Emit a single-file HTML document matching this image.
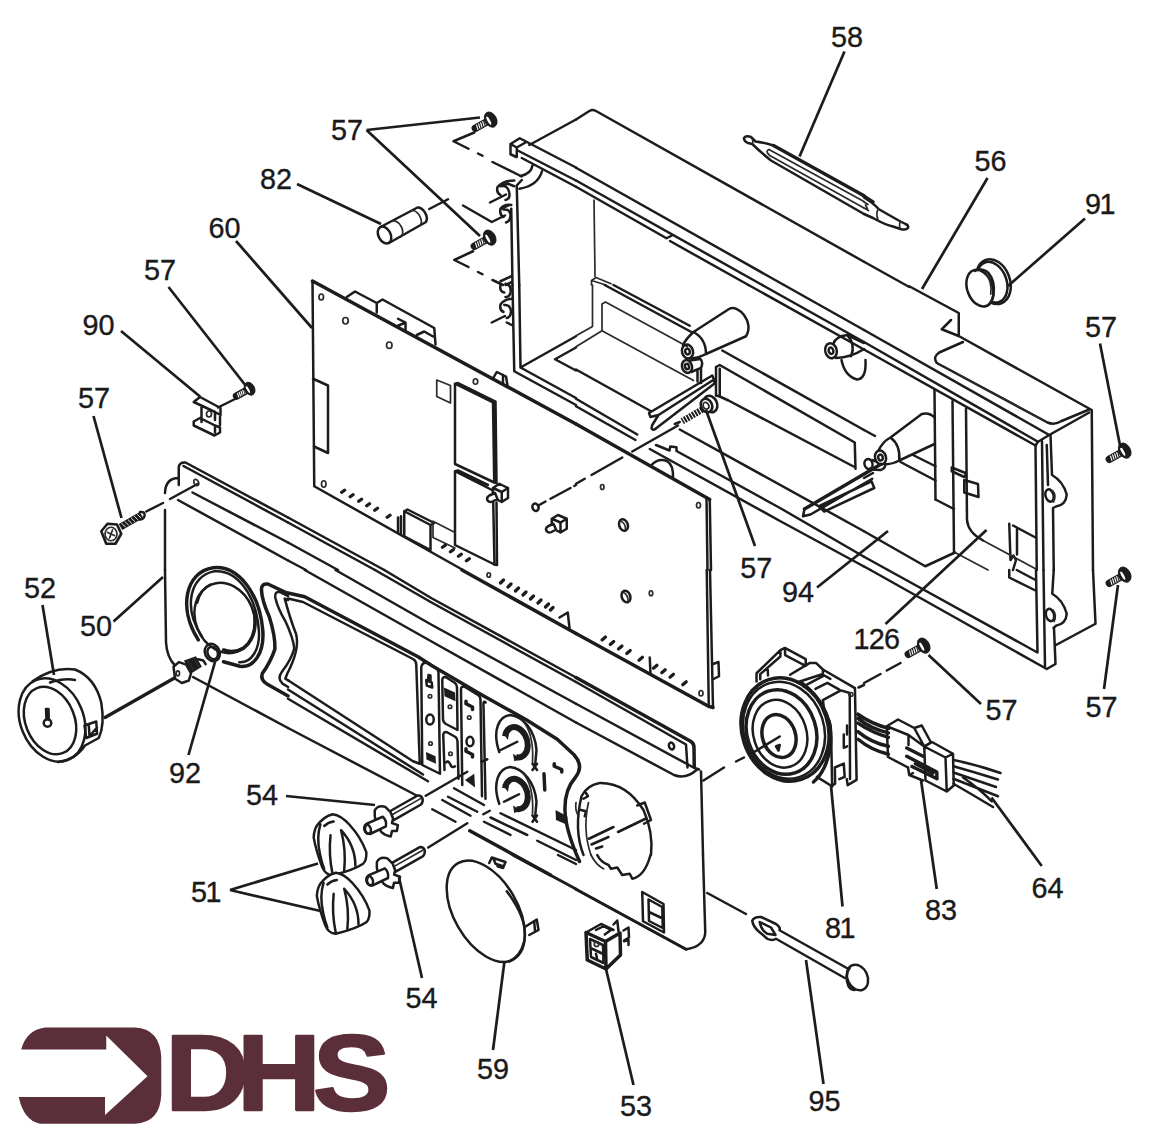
<!DOCTYPE html>
<html><head><meta charset="utf-8"><title>DHS exploded diagram</title>
<style>
html,body{margin:0;padding:0;background:#fff}
svg{display:block}
svg *{vector-effect:non-scaling-stroke}
.k{fill:none;stroke:#1c1c1c;stroke-width:2.5;stroke-linecap:round;stroke-linejoin:round}
.t{fill:none;stroke:#2a2a2a;stroke-width:1.7;stroke-linecap:round;stroke-linejoin:round}
.h{fill:none;stroke:#1c1c1c;stroke-width:3.5;stroke-linecap:round;stroke-linejoin:round}
.w{fill:#fff;stroke:#1c1c1c;stroke-width:2.5;stroke-linecap:round;stroke-linejoin:round}
.wt{fill:#fff;stroke:#2a2a2a;stroke-width:1.7;stroke-linecap:round;stroke-linejoin:round}
.b{fill:#1c1c1c;stroke:none}
.d{fill:none;stroke:#1c1c1c;stroke-width:2;stroke-dasharray:22 10}
.l{fill:none;stroke:#1c1c1c;stroke-width:2.7;stroke-linecap:butt}
text{font-family:"Liberation Sans",Arial,sans-serif;font-size:28.8px;fill:#1a1a1a;stroke:#1a1a1a;stroke-width:0.35px}
</style></head><body>
<svg width="1151" height="1140" viewBox="0 0 1151 1140">
<rect width="1151" height="1140" fill="#fff"/>
<!-- defs -->
<defs>
<g id="scr">
<path d="M-3,1.7 L-14.6,8.2" stroke="#1c1c1c" stroke-width="7.6" fill="none" stroke-linecap="round"/>
<path d="M-5.24,0.44 L-3.96,4.76 M-7.29,1.59 L-6.00,5.91 M-9.33,2.74 L-8.05,7.06 M-11.38,3.90 L-10.09,8.21 M-13.42,5.05 L-12.13,9.37 " stroke="#fff" stroke-width="1.15" fill="none" stroke-linecap="round"/>
<ellipse cx="0.8" cy="0" rx="5.7" ry="8.1" transform="rotate(-29)" fill="#1c1c1c" stroke="#1c1c1c" stroke-width="1"/>
<ellipse cx="-1.4" cy="0" rx="1.3" ry="4.6" transform="rotate(-29)" fill="#fff" stroke="none"/>
<path d="M-3,1.7 L-5,2.8" stroke="#1c1c1c" stroke-width="5.2" fill="none" stroke-linecap="butt"/>
</g>
</defs>
<!-- t10 -->
<g transform="translate(288 0) scale(0.25)">
<!-- fuse 82 -->
<ellipse class="k" cx="386" cy="940" rx="24" ry="36" transform="rotate(-28 386 940)"/>
<path class="k" d="M370,908 L518,830 A24,36 -28 0 1 552,888 L404,972"/>
<path class="t" d="M418,884 A24,36 -28 0 1 450,948 M496,842 A24,36 -28 0 1 530,900"/>
<!-- centre lines -->
<path class="k" d="M745,530 L662,565 L722,595 M760,614 L778,623 M818,648 L935,706"/>
<path class="k" d="M565,836 L640,797 M700,822 L815,888 L868,862 M808,810 L872,778"/>
<path class="k" d="M740,1005 L665,1040 L722,1068 M760,1088 L778,1097 M818,1120 L860,1140"/>
<!-- housing rail left end -->
<path class="k" d="M890,576 L927,553 L1152,670 M890,576 L890,617 L913,628 M890,576 L915,590 L915,628 M915,590 L950,570 M915,600 L1152,722 M935,632 L1152,747"/>
<path class="k" d="M965,580 L1152,478"/>
<path class="k" d="M978,662 Q972,696 930,704 M1016,685 Q1000,742 926,755"/>
<path class="k" d="M915,742 L925,1140 M893,835 L898,1140 M935,720 L915,742"/>
<!-- clips -->
<path class="k" d="M905,722 Q860,722 838,748 Q832,770 850,780 M850,745 Q880,740 885,770 Q890,795 870,800 M850,745 L880,735 L905,745"/>
<path class="k" d="M893,820 Q865,815 850,835 Q845,860 862,868 M862,838 Q888,835 890,860 Q890,885 872,890 M850,835 L880,822"/>
<path class="k" d="M893,1105 L850,1125 M870,1140 L895,1128"/>
</g>
<!-- t20 -->
<g transform="translate(576 0) scale(0.25)">
<path class="k" d="M0,478 L55,443 Q66,437 80,444 L1152,1047"/>
<path class="k" d="M0,671 L832,1140 M0,722 L745,1140 M0,747 L362,953 L384,942 M376,964 L690,1140"/>
<path class="t" d="M72,800 L76,1105 M62,1122 L120,1140 M62,1122 L62,1140 M62,1122 L80,1110 L140,1135"/>
<!-- probe 58 -->
<path class="k" d="M672,552 Q680,540 700,548 L718,566 Q750,570 790,582 M672,552 Q672,566 688,572 L705,576 Q740,610 780,642 L1152,856"/>
<path class="h" d="M790,582 L1152,783"/>
<path class="t" d="M700,548 Q712,560 705,576 M772,598 Q755,605 775,622 M772,598 L1152,806 M775,622 L1152,832"/>
</g>
<!-- t30 -->
<g transform="translate(863 0) scale(0.25)">
<path class="k" d="M4,1047 L185,1148"/>
<path class="k" d="M4,856 L40,872 Q90,900 120,906 L150,916 Q172,922 180,912 Q184,902 170,896 L150,886 Q100,858 62,836 Q45,815 4,790"/>
<path class="h" d="M4,785 L40,808"/>
<path class="t" d="M4,808 L20,818 M4,832 L22,842 M10,820 L18,836 M150,886 Q142,900 150,916 M62,836 Q50,850 60,880"/>
</g>
<!-- t01 -->
<g transform="translate(0 285) scale(0.25)">
<!-- bracket 90 -->
<path class="k" d="M775,468 L800,448 L882,492 L882,520 L860,508 M775,468 L860,508 L860,540 M806,484 L806,548 M775,546 L800,532 L860,562 M775,546 L775,562 L858,602 L880,590 L880,570 L860,562 M860,562 L860,590 M880,518 L880,560"/>
<ellipse class="t" cx="836" cy="516" rx="10" ry="12"/>
<path class="k" d="M940,456 L872,490"/>
<!-- big screw 57 -->
<path d="M482,968 L566,920" stroke="#1c1c1c" stroke-width="7" fill="none" stroke-linecap="butt"/><path d="M486.7,952.9 L502.8,969.0 M499.2,945.7 L515.3,961.8 M511.7,938.6 L527.8,954.6 M524.2,931.4 L540.3,947.4 M536.7,924.2 L552.8,940.3 M549.2,917.0 L565.3,933.1 " stroke="#fff" stroke-width="0.9" fill="none"/>
<path class="k" d="M560,908 Q582,905 578,925 Q572,940 556,938"/>
<path class="w" d="M405,985 L430,955 L468,958 L485,995 L462,1035 L425,1035 Z" style="stroke-width:2.6"/>
<ellipse class="t" cx="444" cy="996" rx="24" ry="27"/>
<path class="t" d="M430,990 L458,1002 M450,980 L438,1012"/>
<path class="k" d="M585,906 L652,872 M680,856 L790,796"/>
<ellipse class="t" cx="785" cy="790" rx="9" ry="13" transform="rotate(-25 785 790)"/>
<!-- front panel top-left corner -->
<path class="k" d="M715,800 L715,728 Q718,708 742,710 L1152,930 M734,724 L1152,950 M715,772 Q662,772 660,832 M660,900 L660,1140 M770,830 L1152,1030 M712,860 L1152,1102"/>

</g>
<!-- t11 -->
<g transform="translate(288 285) scale(0.25)">
<!-- housing left-bottom -->
<path class="k" d="M898,0 L905,345 L1152,480 M925,0 L930,330 L1152,205 M930,330 L1152,452 M1068,297 L1152,250 M1068,297 L1152,342"/>
<path class="k" d="M850,0 Q845,25 865,30 M870,-5 Q895,0 890,30 Q885,50 870,48 M898,55 Q865,55 850,78 Q845,100 862,108 M865,80 Q890,78 892,105 Q892,128 875,132 M815,150 L868,124 M875,150 L895,160"/>
<!-- PCB outline -->
<path class="h" d="M98,-16 L1152,556"/>
<path class="k" d="M98,-16 L105,805 L700,1140"/>
<path class="k" d="M235,48 L268,26 L355,72 L378,58 L585,172 L590,238 M440,163 L470,150 L470,180 M515,200 L545,186 L580,206 M355,72 L355,110 M470,150 L440,135"/>
<path class="k" d="M820,374 L835,348 L872,366 L878,402 M860,360 L860,392"/>
<ellipse class="t" cx="133" cy="48" rx="9" ry="12"/><ellipse class="t" cx="230" cy="143" rx="11" ry="13"/><ellipse class="t" cx="405" cy="241" rx="11" ry="13"/><ellipse class="t" cx="750" cy="386" rx="9" ry="11"/><ellipse class="t" cx="143" cy="796" rx="9" ry="13"/>
<path class="k" d="M100,375 L160,402 L160,672 L104,646"/>
<path class="t" d="M595,380 L650,402 L650,472 L595,446 Z"/>
<path class="k" d="M668,395 L820,470 L825,790 L668,716 Z M668,395 L680,392 L830,466 L834,792 L825,790"/>
<path class="k" d="M668,745 L820,822 L826,1118 M668,745 L668,1040 L826,1118 M668,745 L680,742 L800,800"/>
<path class="k" d="M834,870 L836,1120 L826,1118"/>
<!-- lower components -->
<path class="k" d="M465,905 L570,960 L570,1060 M465,905 L465,1005 L570,1060 M465,905 L478,898 L585,952 L570,960 M440,930 L440,992 M452,925 L452,1000"/>
<path class="t" d="M580,945 L668,990 M580,945 L580,1010 L668,1052"/>
<!-- pins -->
<g class="h" style="stroke-width:3.4"><path d="M215,829 L226,821 M249,847 L260,839 M283,865 L294,857 M315,883 L326,875 M347,901 L358,893 M397,929 L408,921 M618,1049 L629,1041 M650,1067 L661,1059 M682,1085 L693,1077 M714,1103 L725,1095"/></g>
<!-- standoffs -->
<path class="w" d="M820,812 L845,795 L880,812 L880,852 L855,868 L820,850 Z M820,812 L855,828 L855,868 M855,828 L880,812"/>
<path class="w" d="M828,832 L805,842 Q792,850 798,862 Q806,872 818,866 L838,856 Z"/>
<path class="w" d="M1055,935 L1080,920 L1115,935 L1115,975 L1090,990 L1055,972 Z M1055,935 L1090,950 L1090,990 M1090,950 L1115,935"/>
<path class="w" d="M1062,955 L1040,965 Q1028,972 1034,984 Q1042,994 1054,988 L1072,978 Z"/>
<ellipse class="k" cx="990" cy="889" rx="12" ry="15" transform="rotate(-20 990 889)"/>
<path class="k" d="M1005,880 L1030,866 M1050,855 L1130,812 M1145,804 L1152,800"/>
<!-- front panel top edge -->
<path class="k" d="M0,930 L385,1140 M0,950 L348,1140 M0,1030 L200,1140 M0,1102 L72,1140"/>
</g>
<!-- t21 -->
<g transform="translate(576 285) scale(0.25)">
<!-- back-left interior -->
<path class="t" d="M66,0 L66,166 L0,203 M104,183 L104,76 L118,68 L445,246 M104,183 L0,247 M104,183 L470,382"/>
<path class="k" d="M115,0 L465,190 M150,0 L455,163"/>
<path class="k" d="M0,338 L300,505"/>
<!-- rail lines top right -->
<path class="k" d="M832,0 L1152,180 M745,0 L1152,228 M690,0 L1152,258"/>
<path class="k" d="M585,262 L1152,580"/>
<!-- boss 1 -->
<path class="k" d="M470,188 L612,96 C650,75 715,150 680,205 L520,276"/>
<path class="k" d="M470,188 Q440,215 428,240 M520,276 Q490,292 462,294 M470,188 Q520,215 520,276"/>
<ellipse class="k" cx="446" cy="266" rx="22" ry="28" transform="rotate(-15 446 266)"/>
<ellipse class="k" cx="446" cy="266" rx="9" ry="12" transform="rotate(-15 446 266)"/>
<ellipse class="k" cx="444" cy="326" rx="20" ry="26" transform="rotate(-15 444 326)"/>
<ellipse class="k" cx="444" cy="326" rx="8" ry="11" transform="rotate(-15 444 326)"/>
<path class="k" d="M455,302 L498,296 Q510,310 500,332 L460,348 M486,345 L486,386 M500,334 L500,392"/>
<!-- blade clip 1 -->
<path class="k" d="M545,362 L292,512 L298,528 L330,520 L552,378 L545,362 M552,378 L554,394 L322,572 Q308,586 302,572 L305,560 L330,520 M300,505 L292,512"/>
<!-- screw with washer -->
<path d="M505,498 L425,545" stroke="#1c1c1c" stroke-width="6.5" fill="none" stroke-dasharray="2 1.1" stroke-linecap="butt"/>
<ellipse class="w" cx="538" cy="476" rx="26" ry="34" transform="rotate(-25 538 476)" style="stroke-width:2.6"/>
<ellipse class="w" cx="522" cy="482" rx="22" ry="28" transform="rotate(-25 522 482)" style="stroke-width:2.6"/>
<ellipse class="t" cx="520" cy="483" rx="11" ry="14" transform="rotate(-25 520 483)"/>
<path class="k" d="M415,548 L395,556 M408,562 L225,666 M185,690 L62,760 M35,775 L0,795"/>
<!-- wall panel 94 -->
<path class="k" d="M560,328 L560,442 M560,328 L575,320 L1115,630 L1118,735 M575,446 L610,462 L1110,726 M560,442 L575,446 L575,335"/>
<!-- long floor/front-edge lines -->
<path class="k" d="M415,578 L1152,985"/>
<path class="k" d="M320,640 L374,662 L377,646 L402,649 L402,664 L816,892 L1152,1087 M295,656 L816,944 L1152,1126"/>
<path class="k" d="M0,455 L245,598 M0,485 L238,620"/>
<path class="k" d="M300,722 Q330,690 365,705 Q390,720 388,770"/>
<!-- PCB right top -->
<path class="h" d="M0,556 L535,858"/>
<path class="k" d="M535,858 L540,1140 M522,850 L526,1140"/>
<ellipse class="t" cx="105" cy="808" rx="7" ry="10"/><ellipse class="t" cx="490" cy="881" rx="8" ry="11"/>
<ellipse class="k" cx="190" cy="960" rx="17" ry="24" transform="rotate(-20 190 960)"/>
<path class="t" d="M180,945 Q200,955 198,980"/>
<!-- boss 2 left part -->
<ellipse class="k" cx="1020" cy="263" rx="23" ry="30" transform="rotate(-15 1020 263)"/>
<ellipse class="k" cx="1020" cy="263" rx="9" ry="13" transform="rotate(-15 1020 263)"/>
<path class="k" d="M1030,234 Q1040,205 1085,200 L1152,232 M1040,292 Q1100,290 1152,256 M1085,200 Q1120,240 1100,285"/>
<path class="k" d="M1062,300 Q1075,365 1125,378 Q1162,375 1158,300"/>
<!-- blade 2 -->
<path class="h" d="M1219,717 L914,896"/>
<path class="k" d="M914,896 L908,925 L938,918 L1185,775 M972,885 L993,906 L1193,812 M972,885 L1182,785 M1182,785 L1193,812"/>
</g>
<!-- t31 -->
<g transform="translate(863 285) scale(0.25)">
<!-- housing top right -->
<path class="k" d="M185,5 L383,112 L383,205 M352,140 L315,177 L385,205 L915,500 L920,1140"/>
<path class="k" d="M400,228 L305,270 Q278,288 295,312 L738,550 Q765,562 792,545 L905,498"/>
<path class="t" d="M330,330 L720,540"/>
<path class="k" d="M4,180 L745,600 L905,510 M4,228 L700,627 L745,600 M4,258 L690,642 L700,627"/>
<path class="k" d="M690,642 L695,1140 M716,625 L722,1140 M750,600 L756,760 Q800,785 815,838 Q812,880 772,886 L760,892 L763,1140 M735,640 L740,800"/>
<ellipse class="k" cx="746" cy="842" rx="16" ry="25" transform="rotate(-15 746 842)"/>
<path class="t" d="M758,822 Q775,840 762,868"/>
<!-- interior channels -->
<path class="k" d="M286,420 L290,858 M358,465 L364,1072 M412,495 L416,940 Q420,990 480,1022"/>
<path class="k" d="M355,730 L410,752 L410,765 M355,730 L355,745 L405,768 M405,780 L460,796 L462,848 L405,830 Z"/>
<!-- boss 3 -->
<ellipse class="k" cx="70" cy="690" rx="22" ry="28" transform="rotate(-15 70 690)"/>
<ellipse class="k" cx="70" cy="690" rx="9" ry="12" transform="rotate(-15 70 690)"/>
<ellipse class="k" cx="22" cy="716" rx="16" ry="20" transform="rotate(-15 22 716)"/>
<path class="k" d="M62,662 Q80,625 110,610 Q150,640 145,702 Q110,720 85,716 M110,610 L235,516 Q265,508 286,530 M145,702 L286,636 M36,700 L50,705 M30,738 L70,740 Q90,735 88,718"/>
<!-- floor -->
<path class="k" d="M150,708 L290,782 M4,772 L40,752 M200,680 L290,725"/>
<path class="k" d="M4,985 L249,1125 L368,1070 M4,1087 L100,1140 M4,1126 L30,1140 M4,580 L48,604 M290,858 L364,896"/>
<path class="k" d="M585,955 L590,1100 L602,1082 L612,1100 L600,1140 M600,962 L690,1010 M616,975 L616,1078"/>
<path class="t" d="M480,1022 L690,1135 M368,1070 L500,1140"/>
</g>
<!-- t02 -->
<g transform="translate(0 570) scale(0.25)">
<!-- gauge 52 -->
<path class="k" d="M130,445 Q215,385 300,398 Q380,430 405,530 Q420,620 395,672 L340,702 Q300,760 232,768"/>
<path class="k" d="M200,450 Q260,430 300,440"/>
<ellipse class="k" cx="208" cy="600" rx="126" ry="172" transform="rotate(-22 208 600)"/>
<ellipse class="k" cx="200" cy="602" rx="98" ry="140" transform="rotate(-22 200 602)"/>
<circle class="k" cx="190" cy="612" r="15"/>
<path class="k" d="M186,598 L184,556 L194,556 L195,598"/>
<path class="k" d="M338,622 L385,606 L388,655 L345,672 Z M355,618 L358,665 M358,665 L388,630"/>
<path class="k" d="M420,590 L712,424" style="stroke-width:3.4"/>
<!-- panel left edge + bottom edge -->
<path class="k" d="M660,0 L664,290 Q668,350 700,382 M772,428 L1152,632"/>
</g>
<!-- t12 -->
<g transform="translate(288 570) scale(0.25)">
<!-- PCB bottom edge + pins -->
<path class="h" d="M696,0 L1152,254"/>
<ellipse class="t" cx="803" cy="20" rx="7" ry="9"/>
<g class="h" style="stroke-width:3.2"><path d="M850,52 L862,40 M880,68 L892,56 M910,84 L922,72 M940,100 L952,88 M970,116 L982,104 M1000,132 L1012,120 M1030,148 L1042,136 M1050,160 L1060,150"/></g>
<path class="k" d="M1086,190 L1119,170 L1126,232"/>
<!-- panel top lines -->
<path class="k" d="M385,0 L576,114 L1152,430 M348,0 L576,131 L1152,448"/>
<path class="k" d="M190,0 L576,220 L1152,535 M67,0 L576,287 L1152,610"/>
<!-- bezel -->
<path class="h" d="M0,92 L67,107 L520,347 L576,383 L776,500 L953,599 L1077,677 L1144,739 Q1185,784 1150,829 Q1105,880 1108,963 Q1110,1040 1166,1166"/>
<path class="k" d="M0,114 L60,128 L500,356 Q512,362 513,378 L527,775"/>
<path class="k" d="M0,441 L500,765 L527,775"/>
<path class="k" d="M0,478 L540,818 M0,515 L560,845"/>
<path class="k" d="M0,632 L520,905"/>
<!-- gauge hole arcs right side -->

<!-- button columns -->
<path class="k" d="M533,390 Q536,366 560,372 L592,392 Q602,398 602,412 L608,815 L537,780 Z"/>
<path class="k" d="M617,440 Q618,424 634,430 L668,452 Q676,458 676,470 L678,640 L630,615 Q620,608 620,596 Z"/>
<path class="k" d="M621,660 Q622,644 638,650 L670,668 Q678,674 678,686 L682,835 M621,660 L626,800"/>
<path class="k" d="M692,478 Q692,462 708,468 L760,500 Q770,506 770,520 L776,905 M692,478 L697,860"/>
<path class="k" d="M790,530 Q780,520 782,545 L790,915"/>
<!-- icons -->
<path class="k" d="M553,440 L575,450 L577,470 L555,462 Z M560,440 L562,420 L570,422 L570,446"/>
<circle class="t" cx="568" cy="505" r="7"/><ellipse class="k" cx="568" cy="598" rx="15" ry="20"/><circle class="t" cx="570" cy="694" r="7"/>
<path class="b" d="M552,728 L590,745 L592,775 L554,758 Z"/>
<path class="b" d="M624,470 L668,490 L670,525 L626,505 Z"/>
<circle class="t" cx="648" cy="547" r="7"/><circle class="t" cx="650" cy="735" r="7"/>
<path class="k" d="M632,770 Q640,760 648,775 Q655,795 668,785"/>
<path class="h" d="M712,525 L712,535 L738,548 L738,558 M712,715 L712,725 L738,738 L738,748"/>
<circle class="t" cx="725" cy="590" r="7"/><ellipse class="k" cx="728" cy="686" rx="14" ry="19"/>
<path class="b" d="M708,840 L745,815 L748,870 Z"/>
<!-- knob recesses -->
<path class="k" d="M845,728 C815,640 845,585 888,580 C940,585 988,640 994,720 L988,785 M978,775 L996,800 M996,775 L978,800"/>
<path class="t" d="M935,600 Q985,650 978,770"/>
<path d="M868,665 A44,62 -18 1 1 912,748" fill="none" stroke="#1c1c1c" stroke-width="6"/>
<path class="b" d="M858,650 L885,640 L880,680 Z M900,735 L932,755 L905,765 Z"/>
<path class="k" d="M845,935 C815,848 845,793 888,788 C940,793 988,848 994,928 L988,992 M978,982 L996,1007 M996,982 L978,1007"/>
<path class="t" d="M935,808 Q985,858 978,978"/>
<path d="M868,873 A44,62 -18 1 1 912,955" fill="none" stroke="#1c1c1c" stroke-width="6"/>
<path class="b" d="M858,858 L885,848 L880,888 Z M900,942 L932,962 L905,972 Z"/>
<!-- centre lines -->
<path class="k" d="M551,903 L717,807 M774,767 L797,757 M851,720 L917,687"/>
<path class="k" d="M561,1110 L717,1013 M781,977 L807,963 M864,927 L924,897"/>
<!-- broken bottom lines -->
<path class="k" d="M577,957 L670,1007 M617,920 L730,983 M640,907 L757,967 M664,873 L784,940"/>
<path class="h" d="M727,1043 L1050,1220"/>
<path class="k" d="M784,1007 L890,1060 M810,990 L957,1060 M850,973 L1152,1120 M997,1083 L1152,1160"/>
<!-- right hole arc + symbols -->

<path class="h" d="M1065,775 L1065,785 L1095,798 L1095,808 M1024,815 L1027,880"/>
<path class="b" d="M1070,960 L1117,985 L1119,1020 L1072,1000 Z"/>
</g>
<!-- t22 -->
<g transform="translate(576 570) scale(0.25)">
<!-- PCB bottom right -->
<path class="h" d="M0,254 L530,545 L548,550"/>
<path class="k" d="M536,0 L548,550 M523,0 L531,545"/>
<g class="h" style="stroke-width:3.2"><path d="M104,280 L118,268 M137,298 L151,286 M170,316 L184,304 M203,334 L217,322 M252,361 L266,349 M310,393 L324,381 M343,411 L357,399 M376,429 L390,417 M427,459 L441,447"/></g>
<path class="k" d="M295,350 L298,415"/>
<ellipse class="k" cx="200" cy="106" rx="17" ry="24" transform="rotate(-20 200 106)"/>
<path class="t" d="M190,90 Q210,100 208,126"/>
<ellipse class="t" cx="300" cy="93" rx="7" ry="10"/><ellipse class="t" cx="500" cy="493" rx="8" ry="11"/>
<path class="k" d="M548,376 L570,368 L572,425 L550,436"/>
<!-- panel top right -->
<path class="h" d="M0,430 L460,686 Q472,694 472,710 L473,786"/>
<path class="k" d="M0,448 L440,698 L446,790"/>
<ellipse class="k" cx="382" cy="704" rx="10" ry="14" transform="rotate(-20 382 704)"/>
<path class="k" d="M0,535 L470,790 L492,798 M0,610 L392,820 Q440,838 482,800 M500,806 L508,1140"/>
<!-- centre line -->
<path class="k" d="M510,842 L592,790 M640,766 L672,750 M700,736 L815,666"/>
<!-- right hole -->
<path class="k" d="M30,1140 Q-10,1040 22,905 M22,905 Q45,860 95,852 Q200,850 270,960 Q310,1050 300,1140 M40,892 L48,905 L30,915 M20,960 L40,965 L35,985 M245,942 L275,930 L300,1000 L272,1015 M52,1075 L150,1028 M168,1048 L278,995 M62,1098 L130,1068 M80,1114 L105,1106"/>
<path class="t" d="M60,1140 Q25,1040 50,930 M0,930 Q-5,960 10,985"/>
<!-- part 81 -->
<ellipse class="h" cx="836" cy="638" rx="172" ry="210" transform="rotate(-18 836 638)"/>
<path class="h" d="M900,450 Q1030,545 1018,700 Q1005,800 950,848"/>
<ellipse class="k" cx="832" cy="641" rx="160" ry="197" transform="rotate(-18 832 641)"/>
<ellipse class="h" cx="822" cy="648" rx="138" ry="172" transform="rotate(-18 822 648)"/>
<ellipse class="k" cx="816" cy="655" rx="106" ry="138" transform="rotate(-18 816 655)"/>
<ellipse class="h" cx="812" cy="664" rx="66" ry="88" transform="rotate(-18 812 664)"/>
<path class="k" d="M800,705 L815,700 L810,722 Z"/>
<path class="k" d="M1130,470 L1152,460"/>
</g>
<!-- t32 -->
<g transform="translate(863 570) scale(0.25)">
<!-- housing bottom right -->
<path class="k" d="M30,0 L735,396 L770,376 L764,232 M100,0 L694,328 M692,0 L698,330 M722,0 L728,388 M763,0 L757,95 Q800,120 815,175 Q812,216 772,223 L762,232 M920,0 L930,215 L772,300"/>
<ellipse class="k" cx="748" cy="180" rx="16" ry="25" transform="rotate(-15 748 180)"/>
<path class="t" d="M760,160 Q777,180 764,206"/>
<path class="k" d="M585,0 L585,30 L690,82 M615,0 L690,40"/>
<!-- centre line -->
<path class="k" d="M150,372 L95,402 M70,416 L4,452"/>
<!-- connector 83 -->

<path class="k" d="M95,625 L140,598 L205,632 L235,622 L272,690 L245,706 L182,660 L182,700 M95,625 L100,748 L180,790 M95,625 L182,660 M205,632 L245,706"/>
<path class="k" d="M245,706 L330,750 L335,886 L250,842 L245,706 M245,706 L276,688 L360,735 L330,750 M360,735 L363,862 L335,886"/>
<path class="h" d="M175,712 L240,745 M175,745 L295,808 L296,835 L196,786 M210,775 L280,812"/>
<path class="k" d="M180,790 L185,820 L240,842 M185,820 L200,812"/>
<!-- wires -->
<path class="k" d="M362,760 Q460,780 550,812 M362,785 Q450,810 540,838 M362,810 Q450,840 532,868 M362,835 Q450,870 540,905 M362,855 Q440,900 520,948 M400,830 Q460,870 515,925"/>
</g>
<!-- t03 -->
<g transform="translate(0 855) scale(0.25)">
<path d="M85,778 Q105,700 180,690 L540,690 Q640,695 645,810 L645,960 Q640,1070 540,1075 L160,1075 Q95,1062 75,968 L420,968 L420,1040 L590,885 L425,722 L425,778 Z" fill="#5b2f39"/>
</g>
<text transform="translate(0 1109.5) scale(1.08 1)" x="152.94 219.44 289.8" y="0" style="font-size:107.5px;font-weight:bold;fill:#5b2f39;stroke:#5b2f39;stroke-width:2.4;stroke-linejoin:round">DHS</text>
<!-- t13 -->
<g transform="translate(288 855) scale(0.25)">
<!-- cover 59 -->
<ellipse class="k" cx="791" cy="225" rx="127" ry="222" transform="rotate(-30 791 225)"/>
<path class="k" d="M875,145 Q962,262 945,345 Q930,405 885,426"/>
<path class="k" d="M805,32 L815,10 L870,28 L860,52 L838,45 M822,15 L830,35 L860,45"/>
<path class="k" d="M952,285 L995,258 L1002,300 L965,320 M985,265 L988,305"/>
<!-- panel bottom edge -->
<path class="k" d="M900,0 L1152,136" style="stroke-width:3"/>
<path class="k" d="M1080,0 L1152,36"/>
</g>
<!-- t23 -->
<g transform="translate(576 855) scale(0.25)">
<!-- panel bottom right -->
<path class="k" d="M508,0 L517,310 Q514,366 440,377 L0,137"/>
<path class="k" d="M440,377 L0,137" style="stroke-width:3"/>
<!-- hole bottom -->
<path class="k" d="M85,0 Q100,30 130,40 L140,55 L165,50 L185,80 L215,75 L225,95 Q275,85 298,0"/>
<path class="t" d="M60,0 Q80,40 110,55"/>
<!-- switch cutout -->
<path class="k" d="M265,148 L350,196 L352,310 L268,265 Z M290,178 L345,208 L347,292 L292,264 Z M292,228 L347,254"/>
<!-- switch 53 -->
<path class="h" d="M40,310 L45,420 L120,456 L118,346 Z M118,346 L176,312 L178,400 L120,456"/>
<path class="k" d="M40,310 L100,276 L150,300 M150,278 L165,262 L170,305 M190,302 L210,290 L212,330 L192,342 M80,300 L110,285 L140,300 L115,318 M192,345 L210,340 L210,360"/>
<path class="k" d="M56,336 L108,360 L110,432 L60,408 Z M58,372 L109,396"/>
<ellipse class="t" cx="82" cy="356" rx="9" ry="10"/>
<path class="k" d="M80,395 L84,412"/>
<!-- centre line -->
<path class="k" d="M525,152 L680,236"/>
<!-- pin 95 -->
<path class="k" d="M705,263 Q712,246 740,248 L800,276 Q820,290 814,301 L1092,457 M705,263 Q708,285 730,305 L765,335 Q785,345 800,335 L1075,492"/>
<path class="k" d="M735,268 L780,290 L798,320 L765,315 Q740,300 735,268 Z"/>
<ellipse class="w" cx="1126" cy="490" rx="40" ry="53" transform="rotate(-25 1126 490)"/>
<path class="k" d="M1095,452 Q1072,480 1090,525 Q1100,540 1115,540"/>
</g>
<!-- v1 -->
<g transform="translate(150 440) scale(0.2807)">
<!-- gauge hole -->
<path class="h" d="M172,712 C100,600 125,470 225,455 C310,445 390,540 402,680 C407,760 370,812 320,806 L262,790"/>
<path class="k" d="M185,700 C118,600 140,485 228,468 C305,460 378,545 388,680 C392,745 362,795 318,792"/>
<ellipse class="k" cx="266" cy="634" rx="104" ry="128" transform="rotate(-22 266 634)"/>
<path class="h" d="M372,610 Q385,700 335,740 Q300,762 262,748"/>
<path class="k" d="M168,580 Q180,530 215,515"/>
<!-- bezel left end -->
<path class="h" d="M492,547 L420,513 Q398,510 397,532 Q398,570 425,630 Q447,700 445,745 Q430,790 400,832 Q392,855 418,870 L492,912"/>
<path class="k" d="M492,556 L462,541 Q444,540 446,560 Q455,600 482,645 Q510,705 514,742 Q505,780 470,826 Q452,850 472,868 L492,880"/>
<path class="k" d="M492,570 L480,565 Q500,640 520,690 Q535,745 490,830 L482,850 L492,856"/>
</g>
<!-- v2 -->
<g transform="translate(700 600) scale(0.26316)">
<path class="h" d="M600,434 Q650,470 718,488 M600,468 Q655,505 716,522 M600,500 Q650,542 716,556 M602,530 Q650,570 716,586 M600,450 Q650,490 716,505"/>
</g>
<!-- v3 -->
<g transform="translate(240 770) scale(0.21053)">
<path class="w" d="M365,265 Q395,222 440,210 Q480,215 520,260 Q575,320 600,390 Q602,430 585,445 Q540,475 440,500 Q405,498 390,460 Q360,380 350,320 Q352,285 365,265 Z"/>
<path class="k" d="M382,258 Q362,320 380,400 Q388,440 400,470 M400,266 Q420,248 445,245 M430,310 Q420,400 440,496 M480,286 Q505,380 495,478 M480,286 Q548,360 548,455"/>
<g transform="translate(15 278)"><path class="w" d="M365,265 Q395,222 440,210 Q480,215 520,260 Q575,320 600,390 Q602,430 585,445 Q540,475 440,500 Q405,498 390,460 Q360,380 350,320 Q352,285 365,265 Z"/>
<path class="k" d="M382,258 Q362,320 380,400 Q388,440 400,470 M400,266 Q420,248 445,245 M430,310 Q420,400 440,496 M480,286 Q505,380 495,478 M480,286 Q548,360 548,455"/></g>
<path class="w" d="M712,196 L844,121 Q864,120 868,140 Q868,158 858,165 L730,238 Z"/>
<path class="t" d="M720,214 L858,136"/>
<path class="w" d="M640,192 Q655,165 690,175 L715,200 L727,232 L722,252 L750,262 L745,290 L722,290 L716,316 Q690,312 672,295 Q635,250 640,192 Z"/>
<path class="w" d="M600,256 L678,222 Q698,240 693,268 L618,304 Q580,300 600,256 Z"/>
<ellipse class="k" cx="606" cy="281" rx="15" ry="23" transform="rotate(-20 606 281)"/>
<g transform="translate(10 245)"><path class="w" d="M712,196 L844,121 Q864,120 868,140 Q868,158 858,165 L730,238 Z"/>
<path class="t" d="M720,214 L858,136"/>
<path class="w" d="M640,192 Q655,165 690,175 L715,200 L727,232 L722,252 L750,262 L745,290 L722,290 L716,316 Q690,312 672,295 Q635,250 640,192 Z"/>
<path class="w" d="M600,256 L678,222 Q698,240 693,268 L618,304 Q580,300 600,256 Z"/>
<ellipse class="k" cx="606" cy="281" rx="15" ry="23" transform="rotate(-20 606 281)"/></g>
</g>
<!-- v4 -->
<g transform="translate(960 130) scale(0.15789)">
<ellipse class="k" cx="212" cy="960" rx="104" ry="146" transform="rotate(-20 212 960)"/>
<ellipse class="k" cx="203" cy="964" rx="92" ry="133" transform="rotate(-20 203 964)"/>
<ellipse class="w" cx="126" cy="1002" rx="80" ry="120" transform="rotate(-20 126 1002)"/>
<path class="k" d="M95,893 Q140,870 180,905 Q225,960 212,1040 Q205,1090 175,1112"/>
<path class="t" d="M160,900 Q205,960 195,1040"/>
</g>
<!-- v5 -->
<g transform="translate(0 640) scale(0.20851)">
<path class="b" d="M882,98 L940,78 L968,128 L915,162 Z"/>
<path d="M900,96 L928,146 M930,88 L955,132" stroke="#fff" stroke-width="0.5" fill="none" style="vector-effect:none"/>
<path class="k" d="M950,92 L975,98 L986,116"/>
<path class="w" d="M832,128 L858,106 L893,118 L916,160 L906,194 L872,206 L840,186 Z"/>
<ellipse class="t" cx="853" cy="160" rx="8" ry="12"/>
<ellipse class="k" cx="1018" cy="60" rx="35" ry="43" transform="rotate(-25 1018 60)"/>
<ellipse class="k" cx="1020" cy="62" rx="24" ry="31" transform="rotate(-25 1020 62)"/>
</g>
<!-- v6 -->
<g transform="translate(720 630) scale(0.14912)">
<path class="k" d="M245,345 L245,290 L405,135 L435,120 L575,195 L575,240 M270,330 L270,296 L405,178 L405,135 M435,120 L437,168 L550,228 L575,240 M320,262 L322,305"/>
<path class="k" d="M470,300 L600,222 L645,222 L690,265 L905,390 M690,265 L690,295 L520,350 M560,378 L700,305 L740,328 M640,395 L720,355 L800,400"/>
<path class="k" d="M690,470 L810,405 L870,422 M690,470 L702,560 Q745,600 745,680 L752,1050 M905,390 L916,1005 L856,1040 L850,1000 M870,422 L872,1000"/>
<circle class="t" cx="878" cy="432" r="13"/>
<path class="k" d="M650,985 L748,1046 L772,1030 L770,922 L830,896 L836,985 L800,1000 M830,700 L830,790 L852,780 M852,640 L852,700"/>
</g>
<!-- screws -->
<use href="#scr" x="490" y="120"/>
<use href="#scr" x="489" y="238"/>
<use href="#scr" x="249" y="389" transform="translate(249 389) scale(0.85) translate(-249 -389)"/>
<use href="#scr" x="1124" y="451"/>
<use href="#scr" x="923" y="646"/>
<use href="#scr" x="1124" y="575"/>
<!-- leaders -->
<g class="l">
<path d="M366.5,130 L480,117.5 M366.5,130 L480,236"/>
<path d="M297,184 L381,224"/>
<path d="M236,241 L312,328"/>
<path d="M844.5,51.5 L799.5,156.5"/>
<path d="M987.5,178 L922,289"/>
<path d="M1085,218.5 L1008,286"/>
<path d="M168.5,287 L246,386"/>
<path d="M121,331 L200,396.5"/>
<path d="M93.5,416 L121.5,518"/>
<path d="M706,410 L755,546"/>
<path d="M1100,343.5 L1120.5,448"/>
<path d="M42.5,605 L54,675"/>
<path d="M113.5,621.5 L163,577"/>
<path d="M188.5,755 L215,662"/>
<path d="M286,796 L375,805"/>
<path d="M817,587.5 L888,531"/>
<path d="M831,786 L842.5,906.5"/>
<path d="M986.5,530 L885.5,624"/>
<path d="M928.5,655 L981,704"/>
<path d="M1118,585 L1104,689"/>
<path d="M921,780 L936.75,889"/>
<path d="M991.5,797.5 L1041.75,866"/>
<path d="M230,890 L318,863.5 M230,890 L320.5,911"/>
<path d="M399,877.5 L422,978"/>
<path d="M504.5,961 L493,1050"/>
<path d="M606,969 L633.5,1085"/>
<path d="M806,960 L823.5,1084"/>
</g>
<!-- labels -->
<text x="331" y="140">57</text>
<text x="260" y="189">82</text>
<text x="208.5" y="237.5">60</text>
<text x="143.9" y="280">57</text>
<text x="831" y="46.5">58</text>
<text x="974.5" y="170.5">56</text>
<text x="1085" y="214" style="letter-spacing:-1.5px">91</text>
<text x="82.5" y="334.5">90</text>
<text x="78" y="407.5">57</text>
<text x="740.3" y="577.7">57</text>
<text x="1085" y="336.5">57</text>
<text x="24" y="597.5">52</text>
<text x="80" y="636">50</text>
<text x="169" y="783">92</text>
<text x="246" y="804.5">54</text>
<text x="782" y="601.5">94</text>
<text x="853.5" y="649" style="letter-spacing:-0.8px">126</text>
<text x="985.5" y="720">57</text>
<text x="1085.5" y="717">57</text>
<text x="191" y="901.5" style="letter-spacing:-1.5px">51</text>
<text x="405.5" y="1007.5">54</text>
<text x="477" y="1079">59</text>
<text x="620" y="1115.5">53</text>
<text x="825" y="938" style="letter-spacing:-1.5px">81</text>
<text x="808.5" y="1110.5">95</text>
<text x="925" y="919.5">83</text>
<text x="1031.5" y="897.5">64</text>
</svg>
</body></html>
